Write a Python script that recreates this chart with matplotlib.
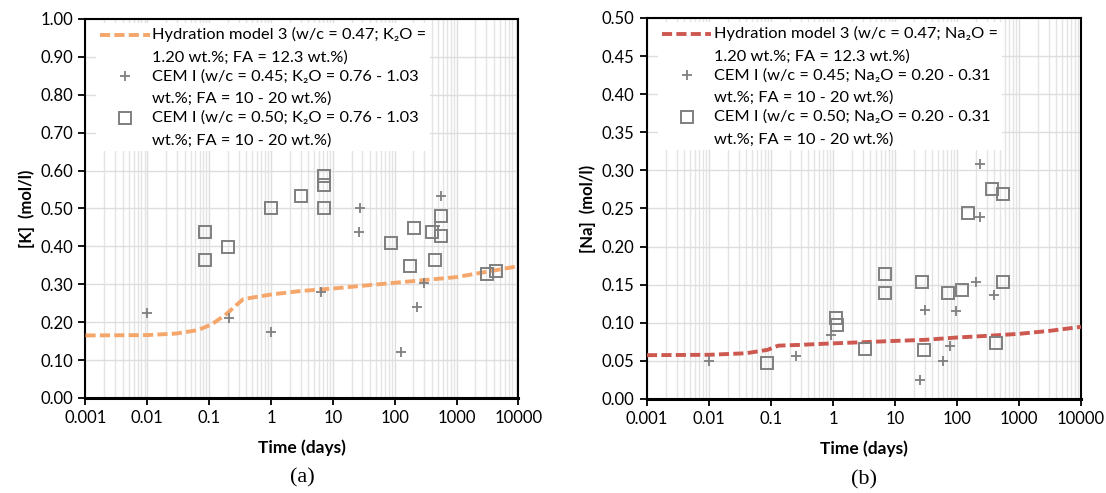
import numpy as np
import matplotlib
matplotlib.use("Agg")
import matplotlib.pyplot as plt
from matplotlib.legend_handler import HandlerLine2D

plt.rcParams['font.family'] = ['Lato', 'DejaVu Sans']

# (a) potassium
k_model_t = [0.001, 0.01, 0.029, 0.065, 0.109, 0.185, 0.274, 0.357, 1.0, 2.87, 10.2, 100, 1000, 10000]
k_model_c = [0.165, 0.166, 0.170, 0.179, 0.194, 0.220, 0.245, 0.261, 0.273, 0.282, 0.289, 0.304, 0.319, 0.348]
k_w045_t = [0.01, 0.21, 0.99, 6.3, 27, 26, 124, 228, 292, 445, 549]
k_w045_c = [0.224, 0.21, 0.173, 0.28, 0.50, 0.438, 0.122, 0.24, 0.304, 0.454, 0.534]
k_w050_t = [0.085, 0.085, 0.205, 1.0, 3.1, 7.2, 7.2, 7.2, 87, 177, 207, 405, 445, 556, 556, 3110, 4380]
k_w050_c = [0.438, 0.364, 0.399, 0.50, 0.534, 0.587, 0.561, 0.50, 0.408, 0.349, 0.448,
            0.438, 0.364, 0.48, 0.427, 0.328, 0.335]

# (b) sodium
na_model_t = [0.001, 0.01, 0.0395, 0.088, 0.131, 0.29, 1.0, 3.2, 10.5, 30, 100, 330, 1000, 3180, 10000]
na_model_c = [0.0575, 0.058, 0.060, 0.0645, 0.070, 0.071, 0.073, 0.0746, 0.0763, 0.0776,
              0.0807, 0.083, 0.0855, 0.0895, 0.0947]
na_w045_t = [0.01, 0.254, 0.92, 25.5, 30.3, 60, 76.8, 97, 199, 234, 234, 393]
na_w045_c = [0.050, 0.057, 0.084, 0.025, 0.117, 0.050, 0.070, 0.116, 0.153, 0.239, 0.309, 0.136]
na_w050_t = [0.085, 1.11, 1.14, 3.34, 7.0, 7.0, 27.5, 29.4, 70.8, 122, 149, 362, 431, 547, 547]
na_w050_c = [0.047, 0.106, 0.097, 0.066, 0.164, 0.139, 0.153, 0.064, 0.139, 0.143, 0.244,
             0.275, 0.074, 0.153, 0.269]

xticks = [0.001, 0.01, 0.1, 1, 10, 100, 1000, 10000]
xtick_labels = ["0.001", "0.01", "0.1", "1", "10", "100", "1000", "10000"]

k_labels = ["Hydration model 3 (w/c = 0.47; K\u2082O =\n1.20 wt.%; FA = 12.3 wt.%)",
            "CEM I (w/c = 0.45; K\u2082O = 0.76 - 1.03\nwt.%; FA = 10 - 20 wt.%)",
            "CEM I (w/c = 0.50; K\u2082O = 0.76 - 1.03\nwt.%; FA = 10 - 20 wt.%)"]
na_labels = ["Hydration model 3 (w/c = 0.47; Na\u2082O =\n1.20 wt.%; FA = 12.3 wt.%)",
             "CEM I (w/c = 0.45; Na\u2082O = 0.20 - 0.31\nwt.%; FA = 10 - 20 wt.%)",
             "CEM I (w/c = 0.50; Na\u2082O = 0.20 - 0.31\nwt.%; FA = 10 - 20 wt.%)"]

GREY = '#7f7f7f'
TICK_FS = 12
LEG_FS = 11.8


class FirstLineHandler(HandlerLine2D):
    # legend entries span two lines: put the symbol next to the first one
    def create_artists(self, legend, orig_handle, xdescent, ydescent, width, height,
                       fontsize, trans):
        arts = super().create_artists(legend, orig_handle, xdescent, ydescent, width,
                                      height, fontsize, trans)
        for a in arts:
            a.set_ydata(np.asarray(a.get_ydata()) + 7.8)
        return arts


def draw_panel(ax, mt, mc, t45, c45, t50, c50, labels, line_color, ymax, ystep, ylabel, tag):
    l1, = ax.plot(mt, mc, color=line_color, lw=2.8, dashes=(2.6, 1.1), label=labels[0], zorder=3)
    l2, = ax.plot(t45, c45, ls='none', marker='+', ms=7, mew=1.3, color=GREY, label=labels[1],
                  zorder=4)
    l3, = ax.plot(t50, c50, ls='none', marker='s', ms=8, mew=1.4, mfc='none', mec=GREY,
                  label=labels[2], zorder=4)

    ax.set_xscale('log')
    ax.set_xlim(0.001, 10000)
    ax.set_ylim(0, ymax)
    ax.set_xticks(xticks)
    ax.set_xticklabels(xtick_labels)
    ax.xaxis.set_minor_locator(matplotlib.ticker.LogLocator(base=10, subs=np.arange(2, 10)))
    ax.xaxis.set_minor_formatter(matplotlib.ticker.NullFormatter())
    ax.set_yticks(np.arange(0, ymax + ystep / 2, ystep))
    ax.yaxis.set_major_formatter(matplotlib.ticker.FormatStrFormatter('%.2f'))

    ax.grid(which='major', color='#dedede', lw=1.0)
    ax.grid(which='minor', axis='x', color='#e4e4e4', lw=1.0)
    ax.set_axisbelow(True)
    ax.tick_params(which='major', direction='out', length=5, width=1.3, labelsize=TICK_FS, pad=4)
    ax.tick_params(which='minor', length=0)
    for s in ax.spines.values():
        s.set_color('black')
        s.set_linewidth(1.5)
    ax.spines['bottom'].set_linewidth(2.2)

    ax.set_xlabel('Time (days)', fontsize=12.5, fontweight='bold', labelpad=9)
    ax.set_ylabel(ylabel, fontsize=12, fontweight='bold', labelpad=4)

    hm = {l1: FirstLineHandler(), l2: FirstLineHandler(), l3: FirstLineHandler()}
    leg = ax.legend(handler_map=hm, loc='upper left', bbox_to_anchor=(0.025, 0.99),
                    borderaxespad=0, fontsize=LEG_FS, frameon=True, fancybox=False,
                    framealpha=1, facecolor='white', edgecolor='none', borderpad=0.25,
                    handlelength=3.0, handletextpad=0.15, labelspacing=0.25)
    for t in leg.get_texts():
        t.set_linespacing(1.75)
    leg.set_zorder(5)

    ax.text(0.5, -0.211, tag, transform=ax.transAxes, ha='center', va='center',
            fontsize=16, family=['Liberation Serif'])


fig = plt.figure(figsize=(11.06, 4.93), dpi=100)
ax1 = fig.add_axes([0.0773, 0.1927, 0.3915, 0.7688])
ax2 = fig.add_axes([0.585, 0.1907, 0.3924, 0.7728])

draw_panel(ax1, k_model_t, k_model_c, k_w045_t, k_w045_c, k_w050_t, k_w050_c, k_labels,
           '#f5a66b', 1.0, 0.1, '[K]  (mol/l)', '(a)')
draw_panel(ax2, na_model_t, na_model_c, na_w045_t, na_w045_c, na_w050_t, na_w050_c, na_labels,
           '#cc5850', 0.5, 0.05, '[Na]  (mol/l)', '(b)')

fig.savefig('out.png', dpi=100)
